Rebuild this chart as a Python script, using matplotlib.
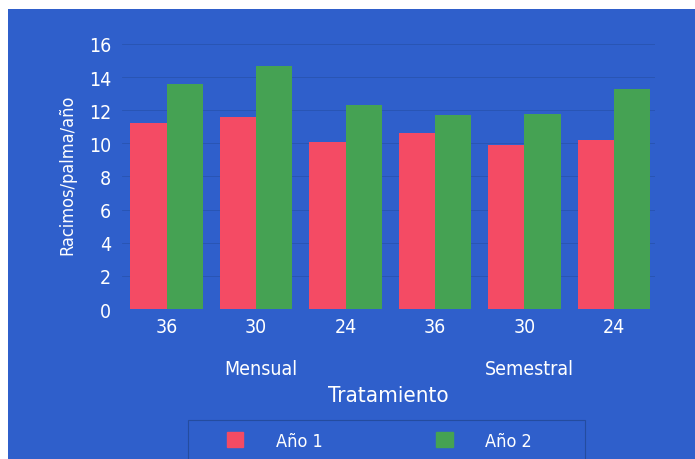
import matplotlib.pyplot as plt
import numpy as np
from matplotlib.patches import Rectangle, Patch

# racimos por palma por año, seis tratamientos
dosis = ['36', '30', '24', '36', '30', '24']
frecuencias = ['Mensual', 'Semestral']
anio1 = [11.2, 11.6, 10.1, 10.6, 9.9, 10.2]
anio2 = [13.6, 14.7, 12.3, 11.7, 11.8, 13.3]

azul = '#2f5fcb'
rojo = '#f44b64'
verde = '#45a253'
linea = '#244c9f'

plt.rcParams['font.family'] = ['DejaVu Sans']
plt.rcParams['font.stretch'] = 'condensed'

fig = plt.figure(figsize=(6.95, 4.6), dpi=100, facecolor='white')
fig.patches.append(Rectangle((8 / 695, 0), 1, 450 / 460, transform=fig.transFigure,
                             facecolor=azul, edgecolor='none', zorder=-5))
# recuadro de la leyenda, abierto por abajo
fig.patches.append(Rectangle((188 / 695, -0.05), 397 / 695, 0.05 + 39 / 460,
                             transform=fig.transFigure, facecolor='none',
                             edgecolor=linea, linewidth=0.8, zorder=-4))

ax = fig.add_axes([122 / 695, 1 - 310 / 460, (655 - 122) / 695, 270 / 460])
ax.set_facecolor('none')

x = np.arange(len(dosis))
ancho = 0.405
ax.bar(x - ancho / 2, anio1, ancho, color=rojo, label='Año 1', zorder=2)
ax.bar(x + ancho / 2, anio2, ancho, color=verde, label='Año 2', zorder=2)

ax.set_xlim(-0.5, 5.46)
ax.set_ylim(0, 16.3)
ax.set_yticks(range(0, 17, 2))
ax.set_xticks(x)
ax.set_xticklabels(dosis)
ax.grid(axis='y', color=linea, linewidth=0.6, alpha=0.6, zorder=1)
for s in ax.spines.values():
    s.set_visible(False)
ax.tick_params(length=0, colors='white', labelsize=14)
ax.tick_params(axis='x', pad=6)
ax.tick_params(axis='y', pad=8)

ax.set_ylabel('Racimos/palma/año', color='white', fontsize=13, labelpad=9)

# frecuencia bajo el grupo central de cada tres
for i, f in enumerate(frecuencias):
    ax.text(x[3 * i + 1] + 0.05, -0.22, f, transform=ax.get_xaxis_transform(),
            ha='center', va='center', color='white', fontsize=14)
ax.text(0.5, -0.32, 'Tratamiento', transform=ax.transAxes, ha='center',
        va='center', color='white', fontsize=16)

manijas = [Patch(color=rojo, label='Año 1'), Patch(color=verde, label='Año 2')]
leg = fig.legend(handles=manijas, ncol=2, loc='center left',
                 bbox_to_anchor=(227 / 695, 1 - 442 / 460), frameon=False,
                 fontsize=13, labelcolor='white',
                 handlelength=0.9, handleheight=0.9, handletextpad=1.8,
                 columnspacing=6.3, borderpad=0, borderaxespad=0)

plt.savefig('out.png', dpi=100, facecolor='white')
